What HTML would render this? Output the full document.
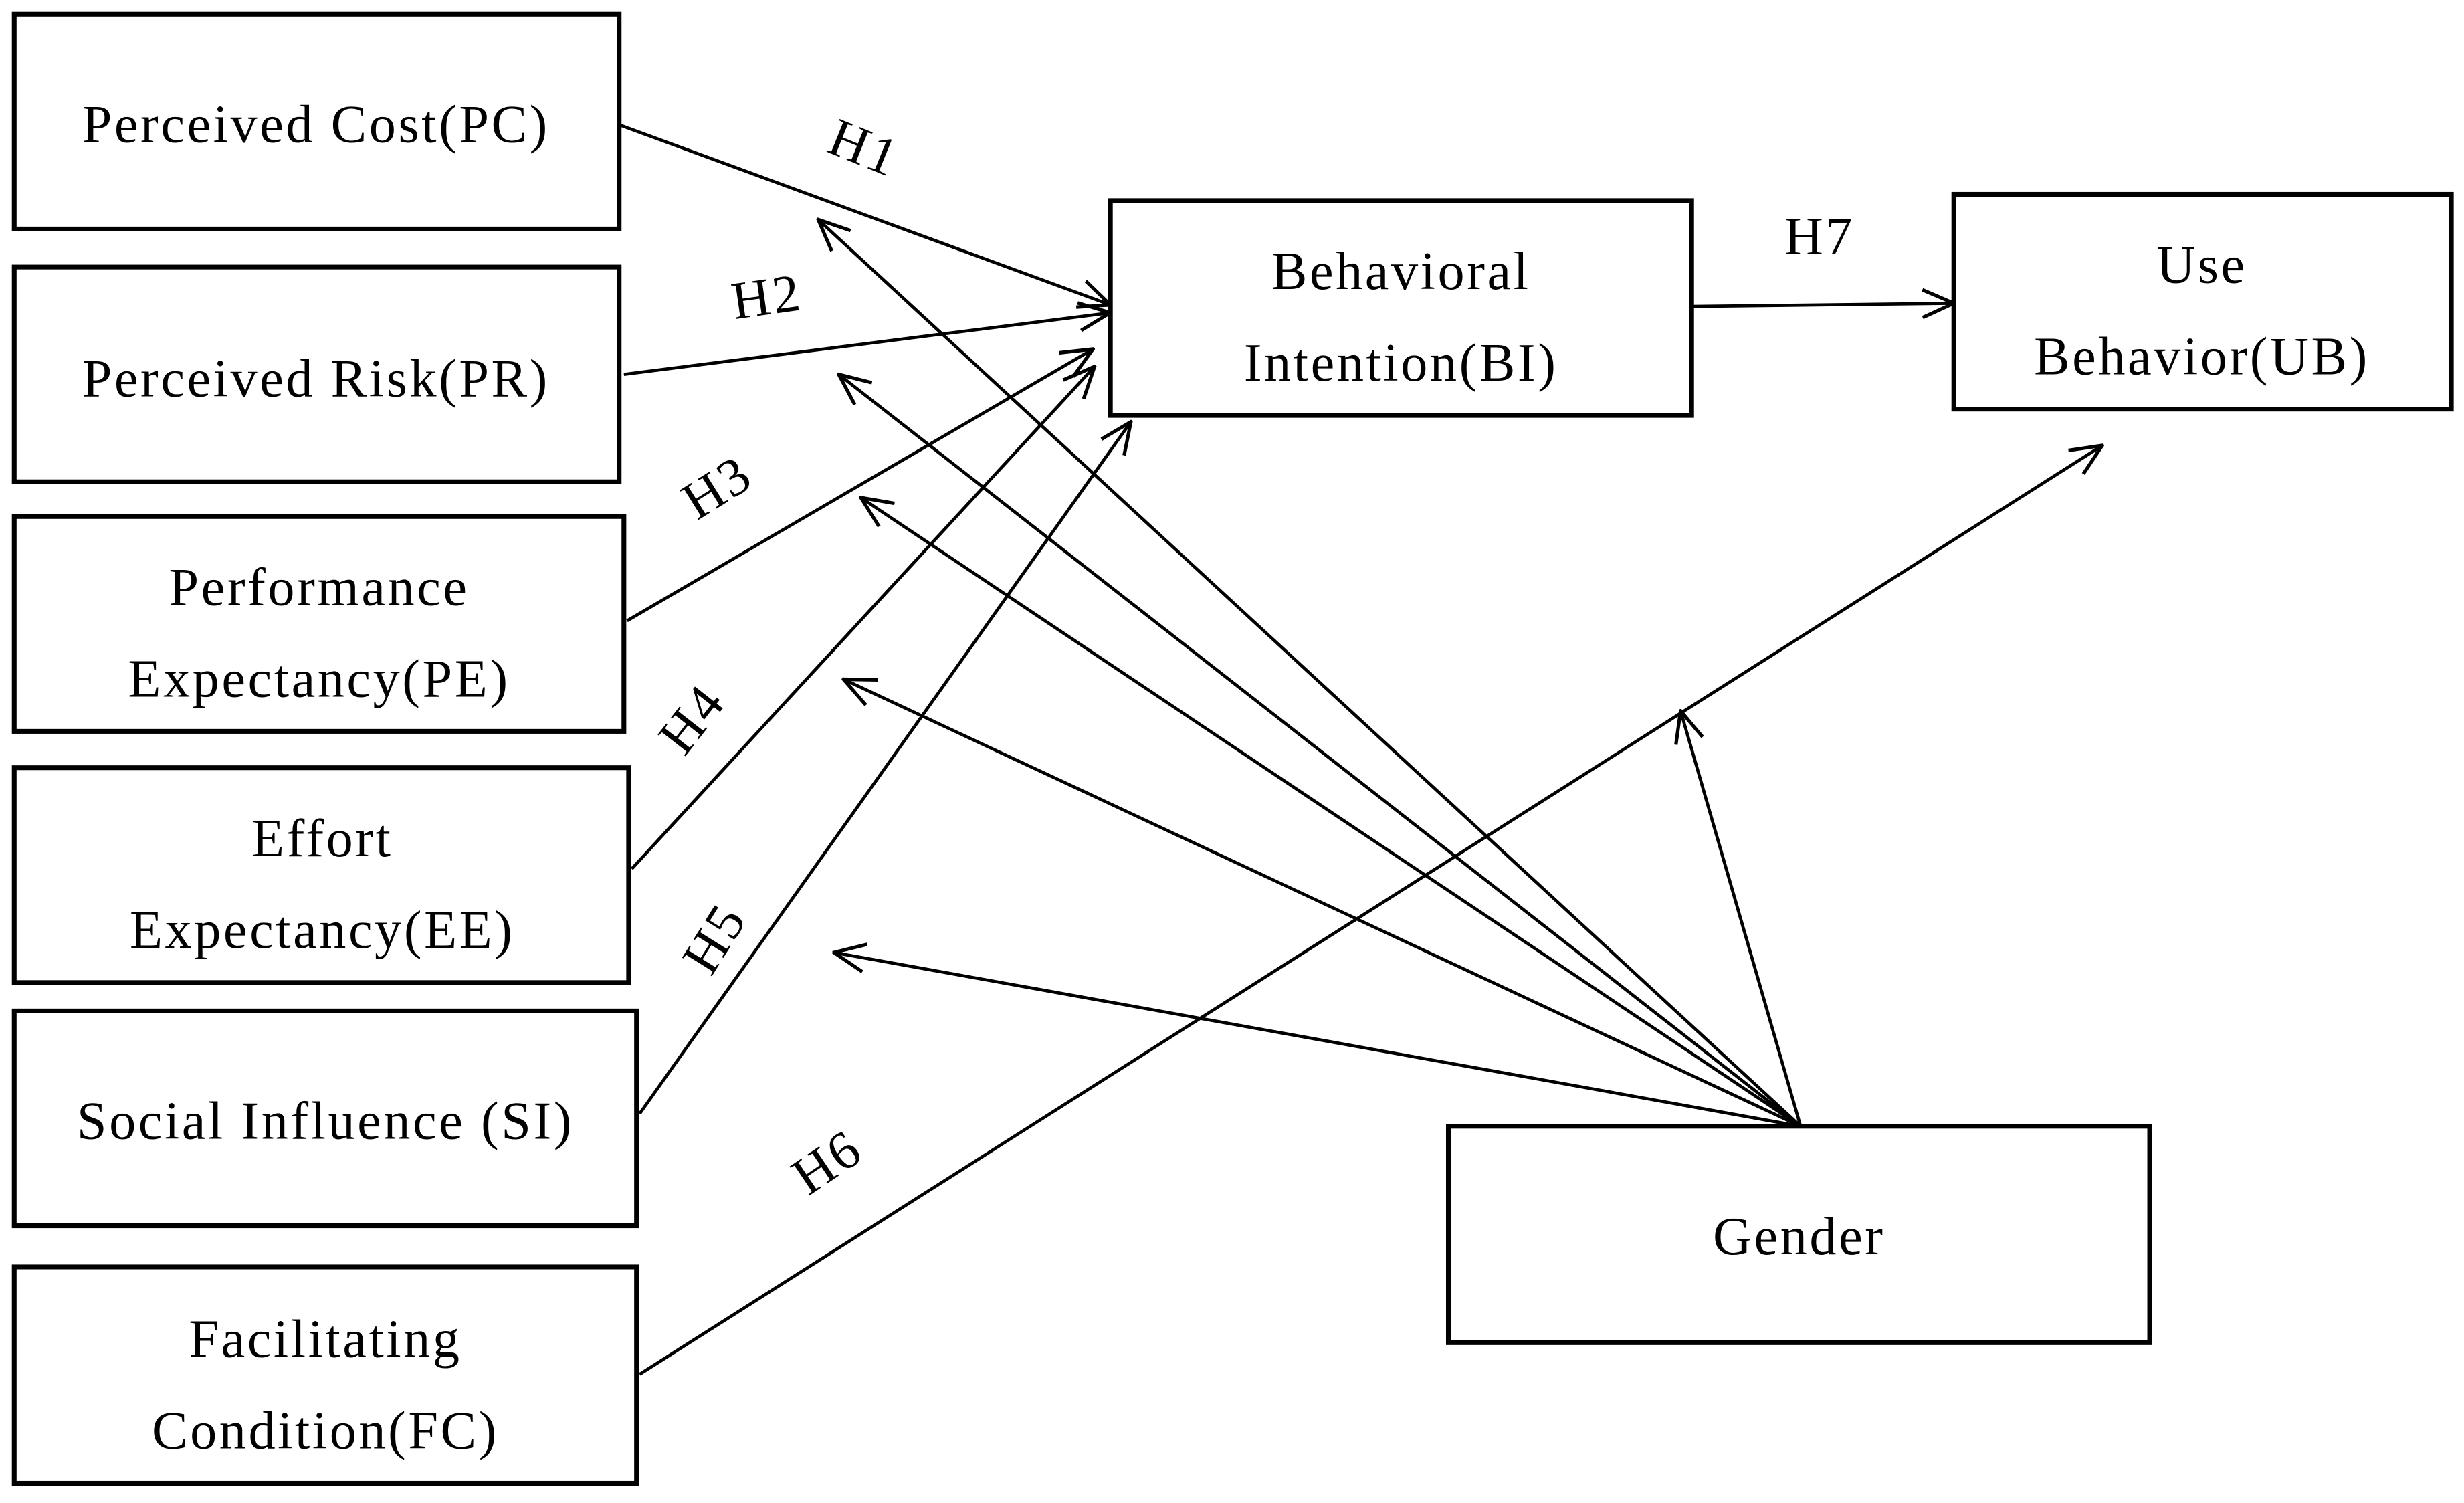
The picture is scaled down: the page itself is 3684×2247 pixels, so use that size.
<!DOCTYPE html>
<html><head><meta charset="utf-8"><style>
html,body{margin:0;padding:0;background:#fff;}
svg{display:block;}
text{font-family:"Liberation Serif",serif;font-size:34px;letter-spacing:1.5px;fill:#000;}
</style></head><body>
<svg width="3684" height="2247" viewBox="0 0 1560 951.5" preserveAspectRatio="none" xmlns="http://www.w3.org/2000/svg">
<defs>
<marker id="a" viewBox="0 0 20 20" refX="19" refY="10" markerWidth="22" markerHeight="22" markerUnits="userSpaceOnUse" orient="auto">
<path d="M1,2 L19,10 L1,18" fill="none" stroke="#000" stroke-width="2"/>
</marker>
</defs>
<g fill="none" stroke="#000" stroke-width="3">
<rect x="9" y="9" width="383" height="136"/>
<rect x="9" y="169" width="383" height="136"/>
<rect x="9" y="327" width="386" height="136"/>
<rect x="9" y="486" width="389" height="136"/>
<rect x="9" y="640" width="394" height="136"/>
<rect x="9" y="802" width="394" height="137"/>
<rect x="703" y="127" width="368" height="136"/>
<rect x="1237" y="123" width="315" height="136"/>
<rect x="917" y="713" width="444" height="137"/>
</g>
<g stroke="#000" stroke-width="2" fill="none" marker-end="url(#a)">
<line x1="392" y1="79" x2="703" y2="193"/>
<line x1="395" y1="237" x2="703" y2="198"/>
<line x1="397" y1="393" x2="692" y2="221"/>
<line x1="400" y1="550" x2="693" y2="232"/>
<line x1="405" y1="705" x2="716" y2="267"/>
<line x1="405" y1="870" x2="1331" y2="282"/>
<line x1="1071" y1="194" x2="1237" y2="192"/>
<line x1="1140" y1="713" x2="518" y2="139"/>
<line x1="1140" y1="713" x2="531" y2="237"/>
<line x1="1140" y1="713" x2="545" y2="315"/>
<line x1="1140" y1="713" x2="534" y2="430"/>
<line x1="1140" y1="713" x2="528" y2="603"/>
<line x1="1140" y1="713" x2="1064" y2="450"/>
</g>
<g text-anchor="middle">
<text x="200" y="90">Perceived Cost(PC)</text>
<text x="200" y="251">Perceived Risk(PR)</text>
<text x="202" y="383">Performance</text>
<text x="202" y="441">Expectancy(PE)</text>
<text x="204" y="542">Effort</text>
<text x="204" y="600">Expectancy(EE)</text>
<text x="206" y="721">Social Influence (SI)</text>
<text x="206" y="859">Facilitating</text>
<text x="206" y="917">Condition(FC)</text>
<text x="887" y="183">Behavioral</text>
<text x="887" y="241">Intention(BI)</text>
<text x="1394" y="179">Use</text>
<text x="1394" y="237">Behavior(UB)</text>
<text x="1139" y="794">Gender</text>
<text x="1152" y="161">H7</text>
<text transform="translate(543,104) rotate(22)">H1</text>
<text transform="translate(487,199) rotate(-8)">H2</text>
<text transform="translate(460,318) rotate(-32)">H3</text>
<text transform="translate(447,462) rotate(-52)">H4</text>
<text transform="translate(462,600) rotate(-58)">H5</text>
<text transform="translate(530,745) rotate(-34)">H6</text>
</g>
</svg>
</body></html>
